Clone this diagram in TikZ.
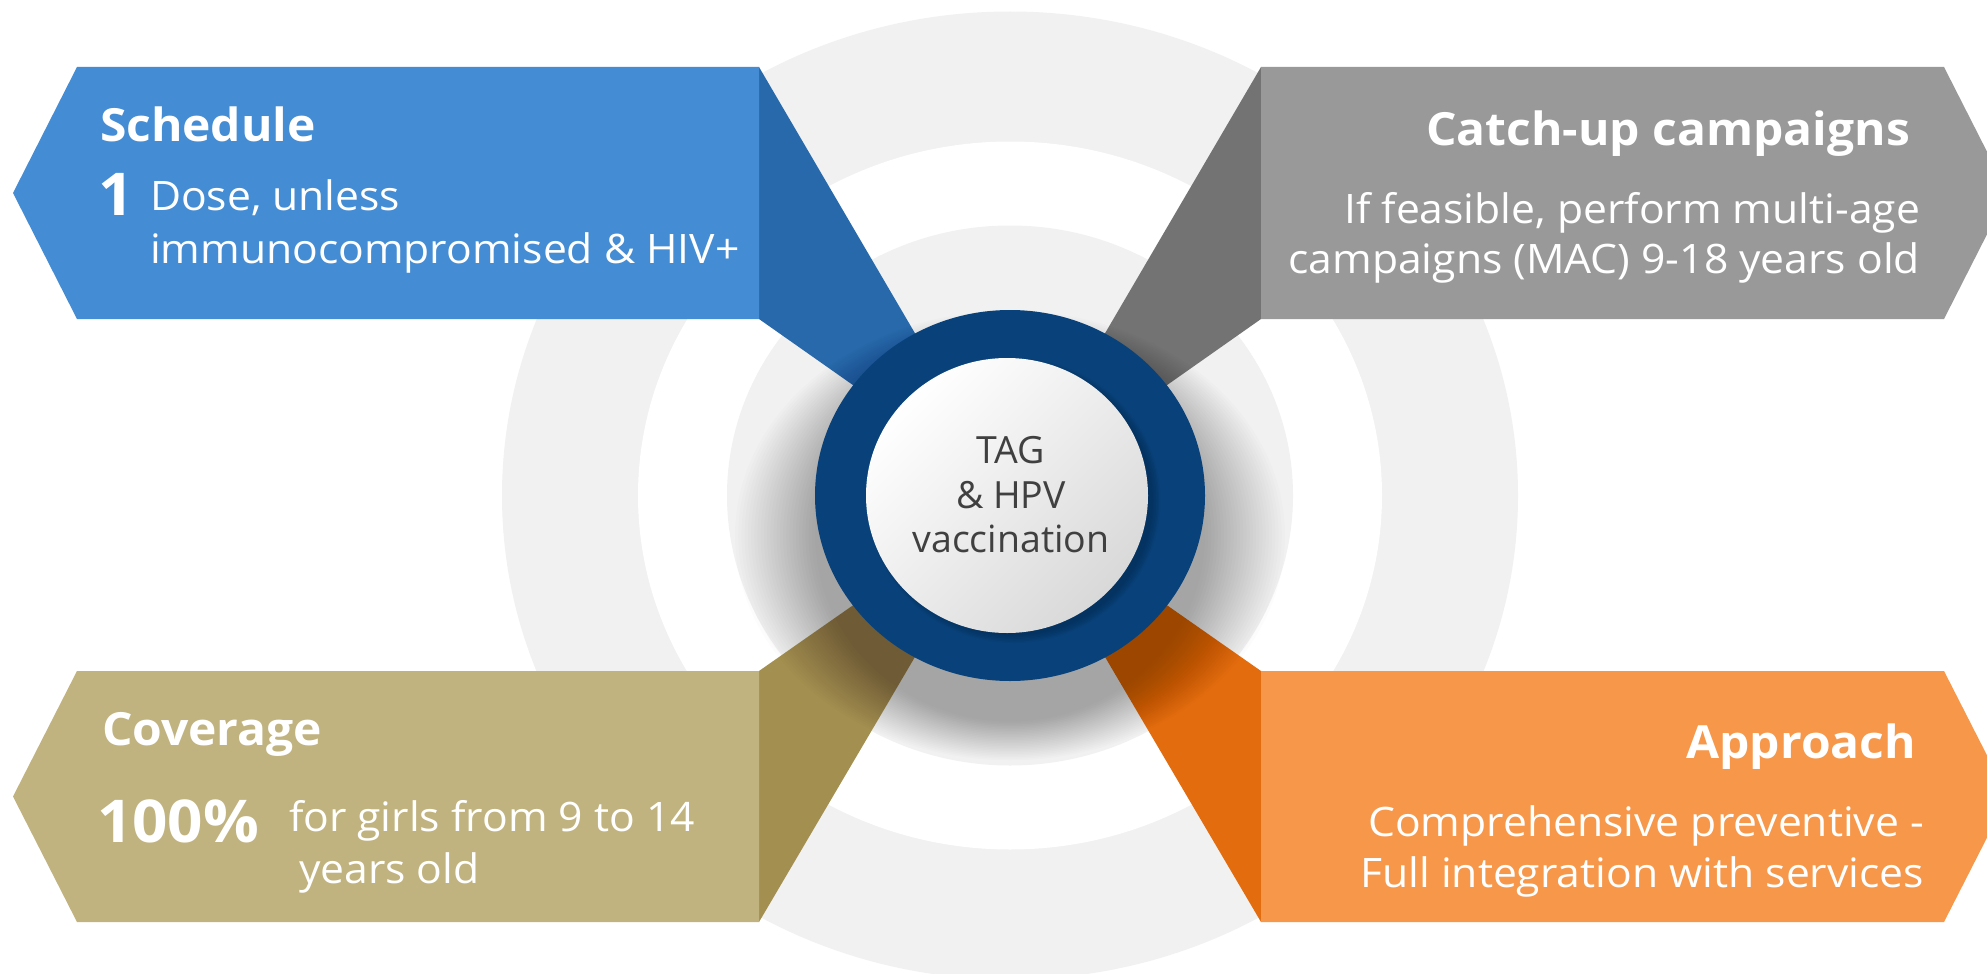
\documentclass[tikz,border=0pt]{standalone}
\usepackage{fontspec}
\setmainfont{Open Sans}
\newfontfamily\boxfont{Open Sans}[FakeStretch=1.05]
\definecolor{ringgray}{HTML}{F1F1F1}
\definecolor{ringblue}{HTML}{09427A}
\definecolor{ringblueshade}{HTML}{042A52}
\definecolor{bluemain}{HTML}{448CD3}
\definecolor{blueside}{HTML}{2769AB}
\definecolor{graymain}{HTML}{999999}
\definecolor{grayside}{HTML}{737373}
\definecolor{olivemain}{HTML}{C1B37F}
\definecolor{oliveside}{HTML}{A38F4F}
\definecolor{orangemain}{HTML}{F6974A}
\definecolor{orangeside}{HTML}{E36C0E}
\definecolor{hubtext}{HTML}{404040}
\begin{document}
\begin{tikzpicture}[x=1pt,y=1pt,
  txt/.style={inner sep=0pt, outer sep=0pt, text=white},
  title/.style={txt, font=\boxfont\fontsize{45.7}{55}\selectfont\bfseries},
  body/.style={txt, font=\boxfont\fontsize{40.6}{48}\selectfont},
  big/.style={txt, font=\boxfont\fontsize{59}{70}\selectfont\bfseries},
  hub/.style={inner sep=0pt, outer sep=0pt, text=hubtext, anchor=base,
    font=\fontsize{37.5}{45}\selectfont}]
\useasboundingbox (0,0) rectangle (1987,-974);
\clip (0,0) rectangle (1987,-974);
\fill[white] (0,0) rectangle (1987,-974);
\coordinate (c) at (1010,-495.5);

% concentric background bands
\fill[ringgray] (c) ellipse [x radius=508, y radius=484];
\fill[white] (c) ellipse [x radius=372, y radius=354];
\fill[ringgray] (c) ellipse [x radius=283, y radius=270];

% darker side panels running to the hub
\fill[blueside]   (759,-67)  -- (759,-319)  -- (c) -- cycle;
\fill[grayside]   (1261,-67) -- (1261,-319) -- (c) -- cycle;
\fill[oliveside]  (759,-671) -- (759,-922)  -- (c) -- cycle;
\fill[orangeside] (1261,-671) -- (1261,-922) -- (c) -- cycle;

% arrow-shaped boxes
\fill[bluemain]   (13,-193) -- (77,-67) -- (759,-67) -- (759,-319) -- (77,-319) -- cycle;
\fill[graymain]   (1261,-67) -- (1944,-67) -- (2008,-193) -- (1944,-319) -- (1261,-319) -- cycle;
\fill[olivemain]  (13,-796.5) -- (77,-671) -- (759,-671) -- (759,-922) -- (77,-922) -- cycle;
\fill[orangemain] (1261,-671) -- (1944,-671) -- (2008,-796.5) -- (1944,-922) -- (1261,-922) -- cycle;

% soft drop shadow under the hub, cast downwards
\foreach \k in {0,...,25}
  \fill[black, opacity=0.013] ([yshift=-40pt]c) ellipse [x radius={195+3.2*\k}, y radius={186+1.55*\k}];

% hub ring
\fill[ringblue] (c) ellipse [x radius=195, y radius=185.5];
\foreach \k in {0,...,5}
  \fill[ringblueshade, opacity=0.12] ([xshift=4pt,yshift=-5pt]c) ellipse [x radius={139+1.5*\k}, y radius={135+1.5*\k}];
\shade[shading=axis, top color=white, bottom color=black!15, shading angle=45]
  ([xshift=-3pt]c) ellipse [x radius=141, y radius=137.5];

% hub label
\node[hub] (hubA) at (1011,-463) {TAG};
\node[hub] (hubB) at (1011,-508) {\& HPV};
\node[hub] (hubC) at (1011,-552) {vaccination};

% Schedule
\node[title, anchor=base west] (schedT) at (100,-141.7) {Schedule};
\node[big, anchor=base west] (schedN) at (98,-215) {1};
\node[body, anchor=base west] (schedA) at (150,-210) {Dose, unless};
\node[body, anchor=base west] (schedB) at (150,-263.3) {immunocompromised \& HIV+};

% Catch-up campaigns
\node[title, anchor=base east] (catchT) at (1910,-145) {Catch-up campaigns};
\node[body, anchor=base east] (catchA) at (1920,-223) {If feasible, perform multi-age};
\node[body, anchor=base east] (catchB) at (1920,-273) {campaigns (MAC) 9-18 years old};

% Coverage
\node[title, anchor=base west] (covT) at (102,-745.7) {Coverage};
\node[big, anchor=base west] (covN) at (97,-842.7) {100\%};
\node[body, anchor=base west] (covA) at (289,-831.7) {for girls from 9 to 14};
\node[body, anchor=base west] (covB) at (299,-883) {years old};

% Approach
\node[title, anchor=base east] (appT) at (1916,-758) {Approach};
\node[body, anchor=base east] (appA) at (1924,-836.7) {Comprehensive preventive -};
\node[body, anchor=base east] (appB) at (1924,-887) {Full integration with services};
\end{tikzpicture}
\end{document}
